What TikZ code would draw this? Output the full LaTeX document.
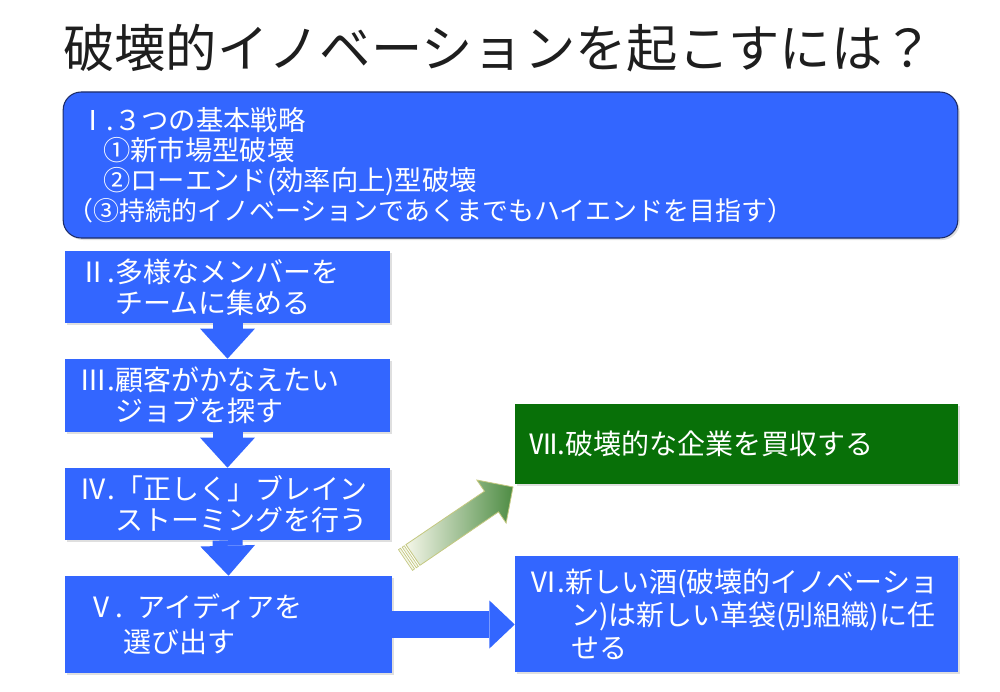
\documentclass[tikz,border=0pt]{standalone}
\usepackage{fontspec}
\setmainfont{Noto Sans CJK JP}
\usetikzlibrary{arrows.meta,shadows}

\definecolor{boxblue}{RGB}{51,102,255}
\definecolor{boxnavy}{RGB}{28,44,104}
\definecolor{boxgreen}{RGB}{8,112,8}
\definecolor{titlegray}{RGB}{30,30,30}
\definecolor{pilcream}{RGB}{244,246,232}
\definecolor{pilgreen}{RGB}{78,140,68}
\definecolor{pilolive}{RGB}{196,200,128}

\tikzset{
  stepbox/.style={fill=boxblue, text=white, align=left, inner ysep=0pt,
    drop shadow={shadow xshift=1.5pt,shadow yshift=-1.5pt,opacity=0.25}},
  bigfont/.style={font=\fontsize{21pt}{23.25pt}\selectfont},
  downpil/.style={draw=boxblue, line width=22.5pt,
    -{Triangle[length=22.5pt,width=41pt,line width=0pt]}},
  hoejrepil/.style={draw=boxblue, line width=20pt,
    -{Triangle[length=19pt,width=36pt,line width=0pt]}},
}

\begin{document}
\begin{tikzpicture}[x=0.75pt,y=-0.75pt]
  %ramme
  	\useasboundingbox (0,0) rectangle (1000,692);
  	\fill[white] (0,0) rectangle (1000,692);
  %titel
  	\node[anchor=west, inner sep=0pt, text=titlegray, font=\fontsize{38.5pt}{40pt}\selectfont] (titel) at (63,48) {破壊的イノベーションを起こすには？};

  %strategier
  	\node[stepbox, draw=boxnavy, line width=0.8pt, rounded corners=13.5pt, inner xsep=3pt,
  	  text width=665pt, minimum height=109.5pt, font=\fontsize{20.5pt}{22.5pt}\selectfont] (b1) at (510.5,165)
  	  {\hspace*{9pt}Ⅰ.３つの基本戦略\\
  	   \hspace*{27pt}①新市場型破壊\\
  	   \hspace*{27pt}②ローエンド(効率向上)型破壊\\
  	   {\fontsize{19.5pt}{22.5pt}\selectfont （③持続的イノベーションであくまでもハイエンドを目指す）}};

  %trin i venstre soejle
  	\node[stepbox, bigfont, inner xsep=11pt, text width=221.75pt, minimum height=54pt] (b2) at (227.5,287)
  	  {Ⅱ.多様なメンバーを\\\hspace*{27pt}チームに集める};
  	\node[stepbox, bigfont, inner xsep=11pt, text width=221.75pt, minimum height=54.75pt] (b3) at (227.5,395.5)
  	  {Ⅲ.顧客がかなえたい\\\hspace*{27pt}ジョブを探す};
  	\node[stepbox, bigfont, inner xsep=11pt, text width=221.75pt, minimum height=54pt] (b4) at (227.5,504)
  	  {Ⅳ.「正しく」ブレイン\\\hspace*{27pt}ストーミングを行う};
  	\node[stepbox, font=\fontsize{21pt}{26.25pt}\selectfont, inner xsep=11pt, text width=223.25pt, minimum height=72.75pt] (b5) at (228.5,624.5)
  	  {\hspace*{6pt}Ⅴ. アイディアを\\\hspace*{33pt}選び出す};

  %hoejre soejle
  	\node[stepbox, fill=boxgreen, bigfont, inner xsep=11pt, text width=310.25pt, minimum height=60pt] (b7) at (736.5,444)
  	  {Ⅶ.破壊的な企業を買収する};
  	\node[stepbox, font=\fontsize{21pt}{24.75pt}\selectfont, inner xsep=11pt, text width=310.25pt, minimum height=87pt] (b6) at (736.5,614)
  	  {Ⅵ.新しい酒(破壊的イノベーショ\\
  	   \hspace*{31pt}ン)は新しい革袋(別組織)に任\\
  	   \hspace*{31pt}せる};

  %pile
  	\draw[downpil] (b2.south) -- (b3.north);
  	\draw[downpil] (b3.south) -- (b4.north);
  	\draw[downpil] (b4.south) -- (b5.north);
  	\draw[hoejrepil] (b5.east) -- (b5.east -| b6.west);

  %skraa pil mod opkoeb
  	\coordinate (gtail) at (405.5,560);
  	\begin{scope}[shift={(gtail)}, rotate=34.2]
  	  \shadedraw[left color=pilcream, right color=pilgreen, draw=pilolive, line width=0.6pt]
  	    (9,-12.5) -- (104,-12.5) -- (104,-26) -- (130,0) -- (104,26) -- (104,12.5) -- (9,12.5) -- cycle;
  	  \foreach \s in {0,4.5}
  	    \filldraw[fill=pilcream, draw=pilolive, line width=0.5pt] (\s,-12.5) rectangle (\s+2.5,12.5);
  	\end{scope}
\end{tikzpicture}
\end{document}
